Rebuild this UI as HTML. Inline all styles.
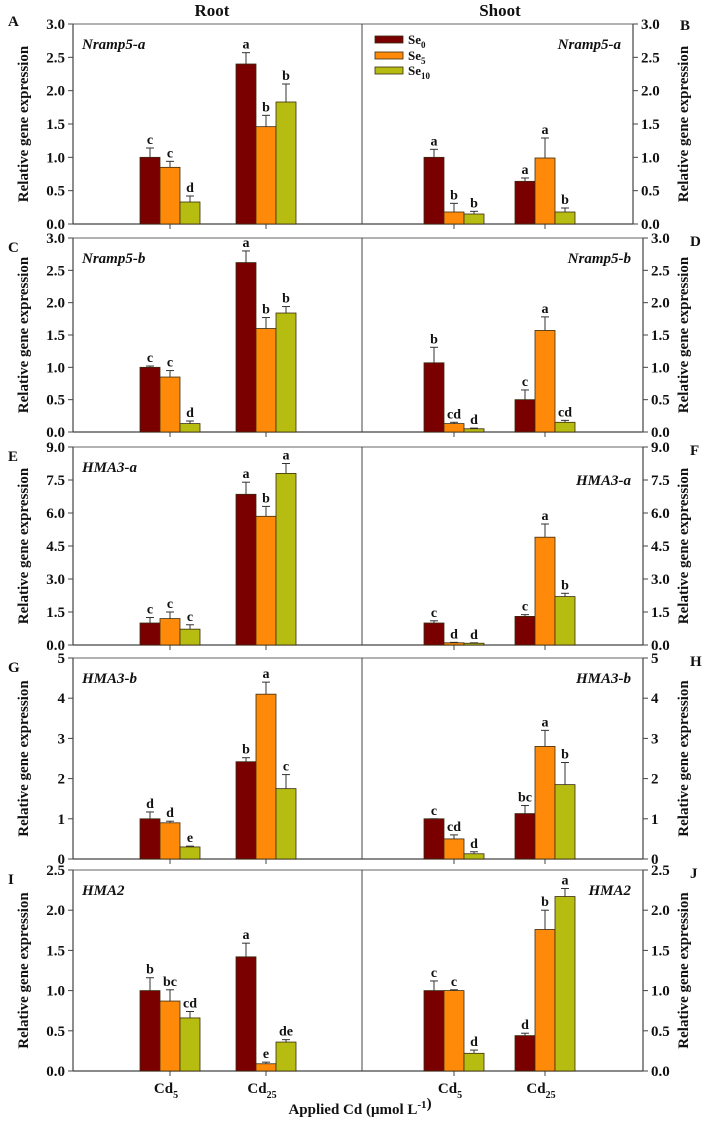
<!DOCTYPE html>
<html><head><meta charset="utf-8"><style>
html,body{margin:0;padding:0;background:#fff;}
svg text{font-family:"Liberation Serif",serif;font-weight:bold;fill:#111;}
</style></head><body>
<svg id="fig" width="709" height="1120" viewBox="0 0 709 1120" xmlns="http://www.w3.org/2000/svg">
<text x="212" y="16" font-size="17" text-anchor="middle">Root</text>
<text x="500" y="16" font-size="17" text-anchor="middle">Shoot</text>
<text x="360" y="1114" font-size="15" text-anchor="middle">Applied Cd  (μmol L<tspan dy="-6" font-size="11">-1</tspan>)</text>
</svg>
<script>
const genes = ["Nramp5-a","Nramp5-b","HMA3-a","HMA3-b","HMA2"];
const yMax = [3,3,9,5,2.5];
const yStep = [0.5,0.5,1.5,1,0.5];
const yDecimals = [1,1,1,0,1];
const rowTop = [24,238,447,658,870];
const rowBottom = [224,432,645,859,1071];
const rightAxisX = [633,643,643,643,643];
const panelLetters = [["A","B"],["C","D"],["E","F"],["G","H"],["I","J"]];
const seriesNames = ["Se0","Se5","Se10"];
const colors = ["#7a0000","#ff8a0a","#b6bd10"];
const categories = ["Cd5","Cd25"];
const rootValues = [
 [[1.0,0.85,0.33],[2.4,1.46,1.83]],
 [[1.0,0.85,0.13],[2.62,1.6,1.84]],
 [[1.0,1.2,0.72],[6.85,5.85,7.8]],
 [[1.0,0.9,0.3],[2.42,4.1,1.75]],
 [[1.0,0.87,0.66],[1.42,0.09,0.36]]];
const rootErrors = [
 [[0.14,0.09,0.09],[0.17,0.17,0.27]],
 [[0.02,0.1,0.04],[0.18,0.17,0.1]],
 [[0.25,0.3,0.2],[0.55,0.45,0.45]],
 [[0.17,0.04,0.02],[0.1,0.3,0.35]],
 [[0.16,0.14,0.08],[0.17,0.02,0.03]]];
const rootLetters = [
 [["c","c","d"],["a","b","b"]],
 [["c","c","d"],["a","b","b"]],
 [["c","c","c"],["a","b","a"]],
 [["d","d","e"],["b","a","c"]],
 [["b","bc","cd"],["a","e","de"]]];
const shootValues = [
 [[1.0,0.18,0.15],[0.64,0.99,0.18]],
 [[1.07,0.13,0.05],[0.5,1.57,0.15]],
 [[1.0,0.1,0.08],[1.3,4.9,2.2]],
 [[1.0,0.5,0.13],[1.13,2.8,1.85]],
 [[1.0,1.0,0.22],[0.44,1.76,2.17]]];
const shootErrors = [
 [[0.12,0.13,0.04],[0.05,0.3,0.06]],
 [[0.24,0.02,0.01],[0.15,0.21,0.03]],
 [[0.1,0.02,0.02],[0.08,0.6,0.15]],
 [[0,0.1,0.05],[0.2,0.4,0.55]],
 [[0.12,0.01,0.04],[0.03,0.24,0.1]]];
const shootLetters = [
 [["a","b","b"],["a","a","b"]],
 [["b","cd","d"],["c","a","cd"]],
 [["c","d","d"],["c","a","b"]],
 [["c","cd","d"],["bc","a","b"]],
 [["c","c","d"],["d","b","a"]]];

const NS="http://www.w3.org/2000/svg";
const svg=document.getElementById("fig");
function mk(tag,attrs,parent){const e=document.createElementNS(NS,tag);for(const k in attrs)e.setAttribute(k,attrs[k]);(parent||svg).appendChild(e);return e;}
const leftX=73, midX=362, barW=20;
const groupCenters=[[170,266],[454,545]];

for(let r=0;r<5;r++){
  const top=rowTop[r],bot=rowBottom[r],rx=rightAxisX[r];
  const y=v=>bot-(v/yMax[r])*(bot-top);
  const g=mk("g",{});
  
  
  mk("line",{x1:leftX,y1:top,x2:rx,y2:top,stroke:"#666","stroke-width":1},g);
  mk("line",{x1:leftX,y1:bot,x2:rx,y2:bot,stroke:"#444","stroke-width":1.2},g);
  mk("line",{x1:leftX,y1:top,x2:leftX,y2:bot,stroke:"#444","stroke-width":1.2},g);
  mk("line",{x1:rx,y1:top,x2:rx,y2:bot,stroke:"#444","stroke-width":1.2},g);
  mk("line",{x1:midX,y1:top,x2:midX,y2:bot,stroke:"#444","stroke-width":1},g);
  const n=Math.round(yMax[r]/yStep[r]);
  for(let i=0;i<=n;i++){
    const v=i*yStep[r],yy=y(v);
    mk("line",{x1:leftX-5,y1:yy,x2:leftX,y2:yy,stroke:"#444"},g);
    mk("line",{x1:rx,y1:yy,x2:rx+5,y2:yy,stroke:"#444"},g);
    const lab=v.toFixed(yDecimals[r]);
    const t1=mk("text",{x:leftX-8,y:yy+5,"font-size":15,"text-anchor":"end"},g);t1.textContent=lab;
    
    
    const t2=mk("text",{x:rx+8,y:yy+5,"font-size":15},g);t2.textContent=lab;
    
    
  }
  const cy=(top+bot)/2;
  const lt=mk("text",{x:0,y:0,"font-size":15,"text-anchor":"middle",transform:`translate(28,${cy}) rotate(-90)`},g);lt.textContent="Relative gene expression";
  
  
  const rt=mk("text",{x:0,y:0,"font-size":15,"text-anchor":"middle",transform:`translate(688,${cy}) rotate(-90)`},g);rt.textContent="Relative gene expression";
  
  
  const pl=mk("text",{x:8,y:top+(r==0?2:14),"font-size":15},g);pl.textContent=panelLetters[r][0];
  
  
  const pr=mk("text",{x:rx+47,y:top+(r==0?6:8),"font-size":15},g);pr.textContent=panelLetters[r][1];
  
  
  const gl=mk("text",{x:82,y:top+25,"font-size":15,"font-style":"italic"},g);gl.textContent=genes[r];
  
  
  const gr=mk("text",{x:rx-12,y:top+(r==2?38:25),"font-size":15,"font-style":"italic","text-anchor":"end"},g);gr.textContent=genes[r];
  
  
  const sides=[[rootValues,rootErrors,rootLetters],[shootValues,shootErrors,shootLetters]];
  for(let s=0;s<2;s++){
    const [V,E,L]=sides[s];
    for(let c=0;c<2;c++){
      const cx=groupCenters[s][c];
      mk("line",{x1:cx,y1:bot,x2:cx,y2:bot+5,stroke:"#444"},g);
      for(let k=0;k<3;k++){
        const v=V[r][c][k],e=E[r][c][k];
        const x0=cx-1.5*barW+k*barW, yt=y(v);
        const b=mk("rect",{x:x0,y:yt,width:barW,height:bot-yt,fill:colors[k],stroke:"#3a2a10","stroke-width":0.8},g);
        
        
        const ye=y(v+e), mx=x0+barW/2;
        mk("line",{x1:mx,y1:yt,x2:mx,y2:ye,stroke:"#333","stroke-width":1},g);
        mk("line",{x1:mx-4,y1:ye,x2:mx+4,y2:ye,stroke:"#333","stroke-width":1},g);
        const lt2=mk("text",{x:mx,y:ye-4,"font-size":14,"text-anchor":"middle"},g);lt2.textContent=L[r][c][k];
        
        
      }
    }
  }
}
const legendY=[36,52,67];
for(let k=0;k<3;k++){
  const lr=mk("rect",{x:375,y:legendY[k],width:28,height:7,fill:colors[k],stroke:"#3a2a10","stroke-width":0.8});
  
  
  const t=mk("text",{x:408,y:legendY[k]+8,"font-size":13});
  t.innerHTML='Se<tspan font-size="9" dy="4">'+seriesNames[k].slice(2)+'</tspan>';
  
  
}
for(let s=0;s<2;s++)for(let c=0;c<2;c++){
  const t=mk("text",{x:groupCenters[s][c]-4,y:1093,"font-size":15,"text-anchor":"middle"});
  t.innerHTML='Cd<tspan font-size="10" dy="5">'+categories[c].slice(2)+'</tspan>';
  
  
}
</script>
</body></html>
